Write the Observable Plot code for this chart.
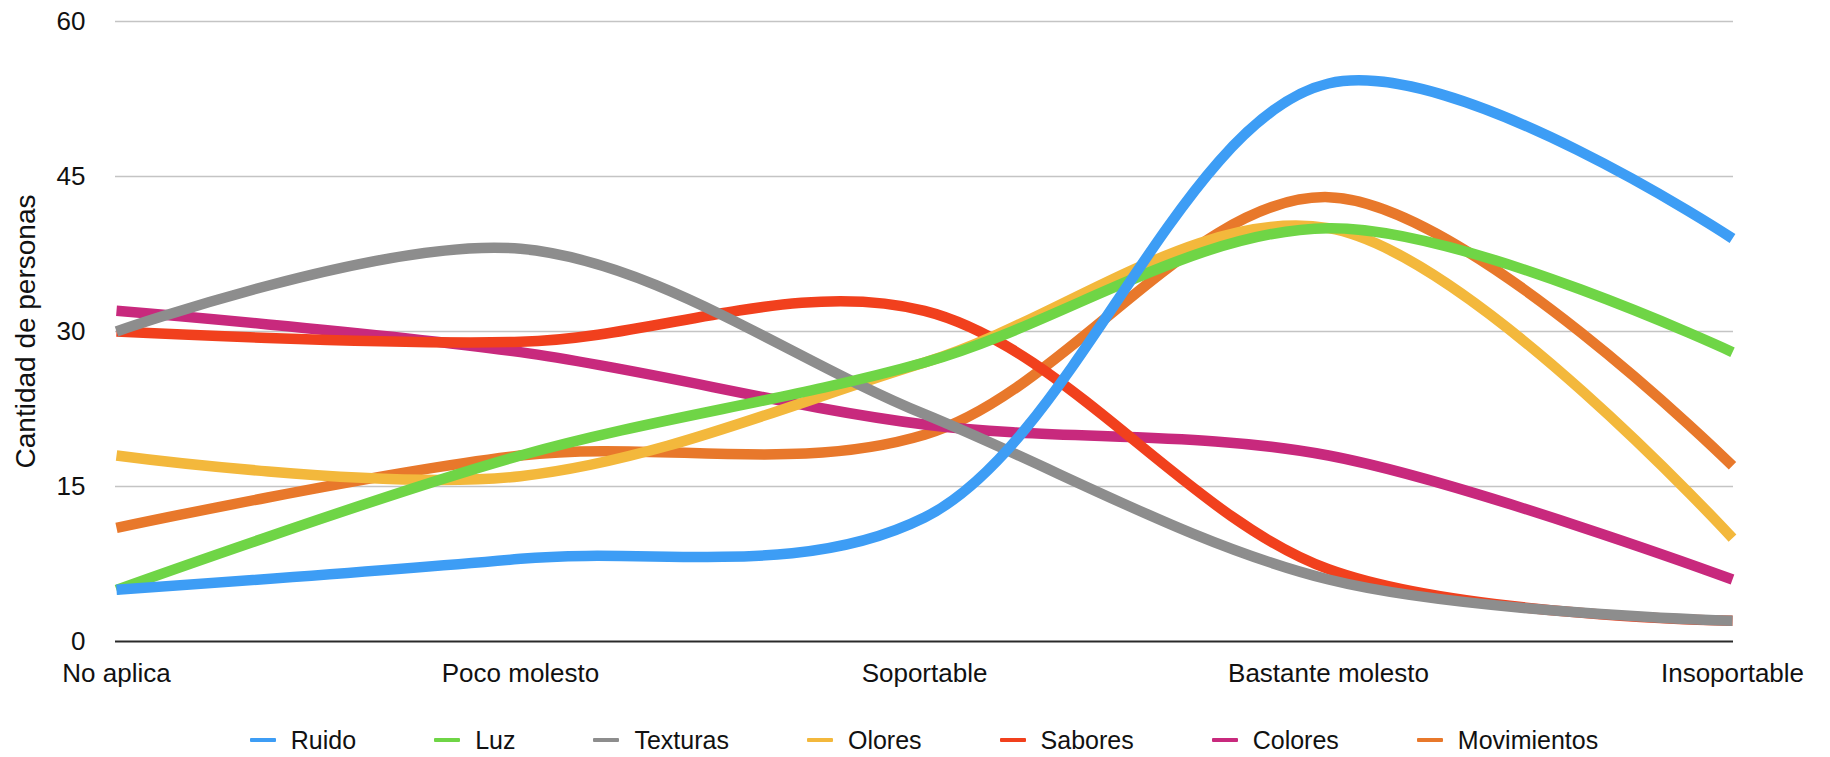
<!DOCTYPE html>
<html lang="es">
<head>
<meta charset="utf-8">
<script src="https://cdn.jsdelivr.net/npm/d3@7"></script>
<script src="https://cdn.jsdelivr.net/npm/@observablehq/plot@0.6"></script>
<style>
  html, body { margin: 0; padding: 0; background: #fff; }
  #wrap { position: relative; width: 1830px; height: 757px; font-family: "Liberation Sans", Arial, Helvetica, sans-serif; }
  #leyenda {
    position: absolute; left: 115px; width: 1618px; top: 722px; height: 36px;
    display: flex; justify-content: center; align-items: center; gap: 78px;
    font-size: 25px; color: #111;
  }
  .item { display: flex; align-items: center; white-space: nowrap; }
  .sw { width: 26px; height: 4px; margin-right: 15px; border-radius: 1px; }
</style>
</head>
<body>
<div id="wrap"></div>
<script>
// Nivel de molestia percibido ante cada estímulo sensorial
const categorias = ["No aplica", "Poco molesto", "Soportable", "Bastante molesto", "Insoportable"];

const series = ["Ruido", "Luz", "Texturas", "Olores", "Sabores", "Colores", "Movimientos"];
const ruido       = [5, 8, 12, 54, 39];
const luz         = [5, 18, 27, 40, 28];
const texturas    = [30, 38, 22, 6, 2];
const olores      = [18, 16, 27, 40, 10];
const sabores     = [30, 29, 32, 7, 2];
const colores     = [32, 28, 21, 18, 6];
const movimientos = [11, 18, 20, 43, 17];

const valoresPorSerie = [ruido, luz, texturas, olores, sabores, colores, movimientos];
const paleta = ["#3d9df5", "#6fd546", "#8d8d8d", "#f3b83c", "#f1401d", "#c8297d", "#e8782b"];
const ticksY = [0, 15, 30, 45, 60];

// Filas largas; la primera serie se dibuja al final para quedar encima
const filas = [];
for (let s = series.length - 1; s >= 0; s--) {
  categorias.forEach((c, i) => filas.push({serie: series[s], categoria: c, valor: valoresPorSerie[s][i]}));
}

const chart = Plot.plot({
  width: 1830,
  height: 700,
  marginTop: 21,
  marginLeft: 115,
  marginRight: 97,
  marginBottom: 59,
  style: {fontFamily: "'Liberation Sans', Arial, Helvetica, sans-serif", fontSize: "26px", color: "#111", background: "#fff"},
  x: {type: "point", domain: categorias, padding: 0},
  y: {domain: [0, 60]},
  color: {domain: series, range: paleta},
  marks: [
    Plot.gridY(ticksY.filter(t => t > 0), {stroke: "#c4c4c4", strokeOpacity: 1, strokeWidth: 1.4}),
    Plot.ruleY([0], {stroke: "#2a2a2a", strokeWidth: 2}),
    Plot.axisY(ticksY, {tickSize: 0, tickPadding: 30, fontSize: 26, label: null}),
    Plot.text(["Cantidad de personas"], {
      frameAnchor: "left", textAnchor: "middle", lineAnchor: "middle",
      dx: -89, rotate: -90, fontSize: 28, fill: "#111"
    }),
    Plot.axisX({tickSize: 0, tickPadding: 22, label: null, fontSize: 26}),
    Plot.line(filas, {
      x: "categoria", y: "valor", z: "serie", stroke: "serie",
      curve: "catmull-rom", strokeWidth: 10.5, strokeLinecap: "butt", strokeLinejoin: "round"
    })
  ]
});

const wrap = document.getElementById("wrap");
wrap.appendChild(chart);

// Leyenda
const leyenda = document.createElement("div");
leyenda.id = "leyenda";
series.forEach((nombre, i) => {
  const item = document.createElement("div");
  item.className = "item";
  const sw = document.createElement("span");
  sw.className = "sw";
  sw.style.background = paleta[i];
  const tx = document.createElement("span");
  tx.textContent = nombre;
  item.appendChild(sw);
  item.appendChild(tx);
  leyenda.appendChild(item);
});
wrap.appendChild(leyenda);
</script>
</body>
</html>
